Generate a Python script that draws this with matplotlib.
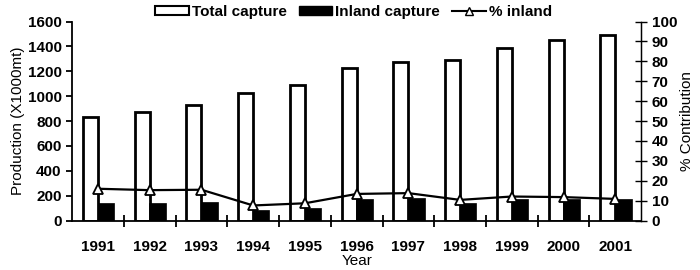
import numpy as np
import matplotlib.pyplot as plt
from matplotlib.patches import Patch
from matplotlib.lines import Line2D

plt.rcParams['font.family'] = ['Liberation Sans', 'DejaVu Sans']

# data
years = ['1991', '1992', '1993', '1994', '1995', '1996',
         '1997', '1998', '1999', '2000', '2001']
total_capture = [834, 872, 931, 1027, 1089, 1224, 1278, 1291, 1385, 1453, 1493]
inland_capture = [143, 143, 153, 86, 102, 175, 183, 143, 170, 170, 175]
pct_inland = [16.0, 15.3, 15.5, 7.6, 8.7, 13.4, 13.8, 10.4, 12.1, 11.8, 10.9]

x = np.arange(len(years))
w = 0.29

fig = plt.figure(figsize=(7, 2.7), dpi=100)
ax = fig.add_axes([0.103, 0.183, 0.813, 0.737])
ax2 = ax.twinx()

# bars on the production axis
ax.bar(x - w/2, total_capture, w, color='white', edgecolor='black', linewidth=2)
ax.bar(x + w/2 + 0.01, inland_capture, w + 0.03, color='black', edgecolor='black', linewidth=0.5)

# percent line on the right axis
ax2.plot(x, pct_inland, color='black', linewidth=1.6, marker='^',
         markersize=7, markerfacecolor='white', markeredgecolor='black', markeredgewidth=1.3)

ax.set_xlim(-0.5, len(years) - 0.5)
ax.set_ylim(0, 1600)
ax2.set_ylim(0, 100)
ax.set_yticks(np.arange(0, 1601, 200))
ax2.set_yticks(np.arange(0, 101, 10))

# category labels at the centres, tick marks between categories
ax.set_xticks(x)
ax.set_xticklabels(years, fontsize=11, fontweight='bold')
ax.set_xticks(np.arange(0.5, len(years) - 1, 1), minor=True)
ax.tick_params(axis='x', which='major', length=0, pad=14)
ax.tick_params(axis='x', which='minor', direction='inout', length=8, width=1.3)
ax.tick_params(axis='y', direction='out', length=4, width=1.3, labelsize=11)
ax2.tick_params(axis='y', direction='inout', length=8, width=1, labelsize=11)
for lab in ax.get_yticklabels() + ax2.get_yticklabels():
    lab.set_fontweight('bold')

for a in (ax, ax2):
    a.spines['top'].set_visible(False)
ax.spines['left'].set_linewidth(1.3)
ax.spines['bottom'].set_linewidth(1.3)
ax2.spines['right'].set_linewidth(1)
ax2.spines['left'].set_visible(False)
ax2.spines['bottom'].set_visible(False)

ax.set_xlabel('Year', fontsize=11, labelpad=0)
ax.set_ylabel('Production (X1000mt)', fontsize=11, labelpad=2)
ax2.set_ylabel('% Contribution', fontsize=11, labelpad=2)

handles = [Patch(facecolor='white', edgecolor='black', linewidth=1.5),
           Patch(facecolor='black', edgecolor='black'),
           Line2D([], [], color='black', linewidth=1.5, marker='^', markersize=6,
                  markerfacecolor='white', markeredgecolor='black')]
fig.legend(handles, ['Total capture', 'Inland capture', '% inland'], ncol=3,
           loc='center', bbox_to_anchor=(0.505, 0.956), frameon=False,
           prop={'size': 11, 'weight': 'bold'}, handlelength=2.2, handleheight=0.45,
           handletextpad=0.2, columnspacing=0.8, borderpad=0)

fig.savefig('out.png', dpi=100)
